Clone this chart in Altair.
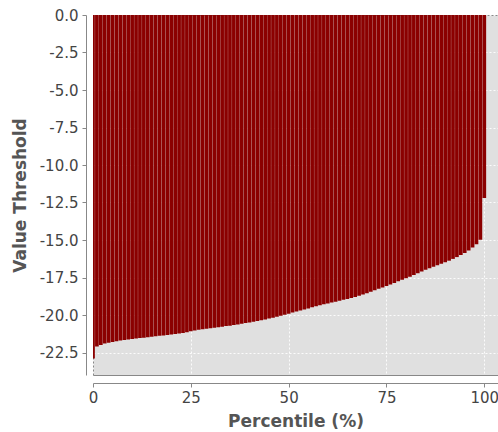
import altair as alt
import pandas as pd

percentiles = list(range(0, 101))
thresholds = [
    -22.9, -22.1, -22.0, -21.9, -21.85, -21.8, -21.75, -21.7, -21.67, -21.63,
    -21.6, -21.57, -21.54, -21.51, -21.48, -21.45, -21.42, -21.39, -21.36, -21.33,
    -21.3, -21.27, -21.24, -21.2, -21.15, -21.08, -21.03, -20.98, -20.95, -20.91,
    -20.88, -20.85, -20.81, -20.78, -20.74, -20.71, -20.67, -20.63, -20.58, -20.54,
    -20.5, -20.45, -20.4, -20.35, -20.3, -20.24, -20.18, -20.12, -20.05, -19.98,
    -19.91, -19.84, -19.77, -19.7, -19.63, -19.56, -19.49, -19.42, -19.35, -19.29,
    -19.23, -19.17, -19.11, -19.05, -18.99, -18.93, -18.87, -18.8, -18.72, -18.64,
    -18.55, -18.45, -18.35, -18.25, -18.16, -18.06, -17.96, -17.86, -17.75, -17.65,
    -17.55, -17.45, -17.33, -17.22, -17.1, -16.98, -16.88, -16.78, -16.68, -16.58,
    -16.48, -16.38, -16.26, -16.14, -16.0, -15.86, -15.7, -15.5, -15.28, -14.98,
    -12.2,
]
x_ticks = [0, 25, 50, 75, 100]
y_ticks = [0.0, -2.5, -5.0, -7.5, -10.0, -12.5, -15.0, -17.5, -20.0, -22.5]

df = pd.DataFrame({"pct": percentiles, "val": thresholds})

font = "DejaVu Sans"

chart = (
    alt.Chart(df)
    .transform_calculate(lo="datum.pct - 0.47", hi="datum.pct + 0.47", zero="0")
    .mark_rect(color="#8b0000", clip=True)
    .encode(
        x=alt.X(
            "lo:Q",
            scale=alt.Scale(domain=[0, 103.5], nice=False, zero=False),
            axis=alt.Axis(
                title="Percentile (%)",
                values=x_ticks,
                format="d",
                offset=8,
                labelPadding=3,
                titlePadding=8,
                labelFlush=False,
            ),
        ),
        x2="hi:Q",
        y=alt.Y(
            "val:Q",
            scale=alt.Scale(domain=[-24, 0], nice=False, zero=False),
            axis=alt.Axis(
                title="Value Threshold",
                values=y_ticks,
                labelExpr="datum.value == 0 ? '0.0' : '-' + format(-datum.value, '.1f')",
                offset=7,
                labelPadding=4,
                titlePadding=10,
                labelFlush=False,
            ),
        ),
        y2="zero:Q",
    )
    .properties(
        width=405,
        height=360,
        autosize=alt.AutoSizeParams(type="none"),
        padding={"left": 93, "top": 15, "right": 0, "bottom": 57},
    )
    .configure_view(fill="#e0e0e0", stroke="#888888", strokeWidth=1)
    .configure_axis(
        labelFont=font,
        titleFont=font,
        labelFontSize=15,
        titleFontSize=17,
        titleFontWeight="bold",
        labelColor="#444444",
        titleColor="#555555",
        domainColor="#888888",
        tickColor="#888888",
        tickSize=4,
        gridColor="#ffffff",
        gridDash=[2, 2],
        gridWidth=1,
        gridOpacity=0.9,
    )
)

chart.save("out.html", embed_options={"renderer": "svg", "actions": False})
